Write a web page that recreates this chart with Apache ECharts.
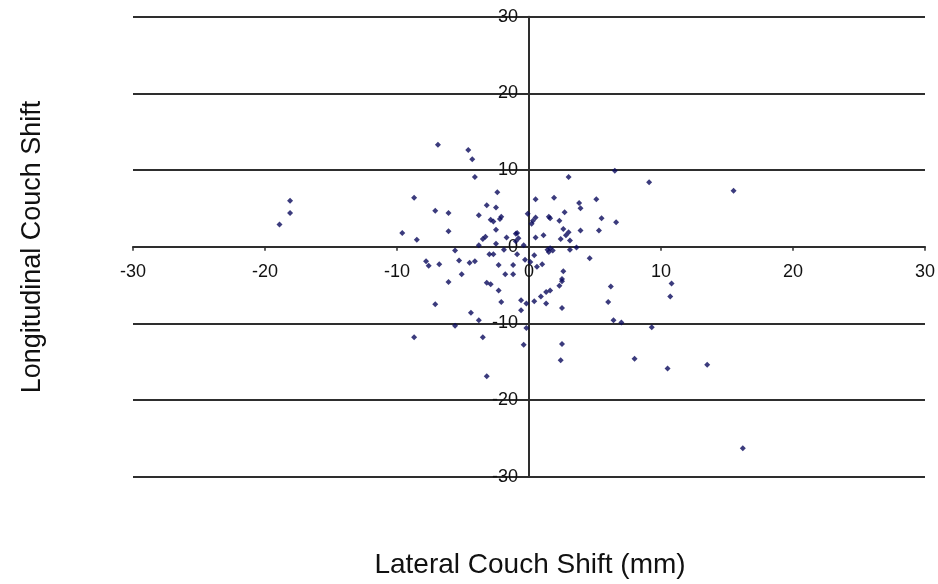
<!DOCTYPE html>
<html>
<head>
<meta charset="utf-8">
<script src="https://cdn.jsdelivr.net/npm/echarts@6/dist/echarts.min.js"></script>
<style>
html,body{margin:0;padding:0;background:#fff;}
#chart{width:938px;height:584px;}
</style>
</head>
<body>
<div id="chart"></div>
<script>
// Lateral couch shift (mm), x values
var lateral = [
  -6.9, -4.6, -4.3, -4.1, -2.4, -8.7, -18.1, -18.1, -18.9, -7.1,
  -6.1, -3.2, -2.5, -3.8, -2.9, -2.7, -2.1, -2.2, -0.1, -9.6,
  -8.5, -6.1, -2.5, -3.3, -3.5, -1.7, -1.0, -0.8, -3.8, -2.5,
  -5.6, -0.4, 6.5, 3.0, 0.5, 1.9, 3.8, 3.9, 5.1, 2.7,
  0.5, 0.3, 0.2, 1.5, 1.6, 2.3, 5.5, 6.6, 2.6, 3.0,
  2.8, 3.9, 5.3, 1.1, 0.5, 2.4, 3.1, 1.4, 1.6, 1.8,
  1.5, 3.1, 3.6, 4.6, -0.3, 0.1, 0.6, 1.0, 2.6, 2.5,
  2.5, 2.3, 6.2, 6.0, 1.6, 1.3, 0.9, 0.4, -0.2, 1.3,
  -0.6, -0.6, 2.5, 6.4, 7.0, -0.2, -0.4, 2.5, 2.4, 8.0,
  10.8, 10.7, 9.3, 10.5, 13.5, 16.2, 9.1, 15.5, -7.8, -7.6,
  -6.8, -5.3, -4.5, -4.1, -5.1, -6.1, -3.0, -2.7, -1.9, -0.9,
  -2.3, -1.2, -1.8, -1.2, -3.2, -2.9, -2.3, -2.1, -7.1, -4.4,
  -3.8, -5.6, -8.7, -3.5, -3.2, 0.4, -0.9, -1.0
];
// Longitudinal couch shift, y values
var longitudinal = [
  13.3, 12.6, 11.4, 9.1, 7.1, 6.4, 6.0, 4.4, 2.9, 4.7,
  4.4, 5.4, 5.1, 4.1, 3.5, 3.3, 3.9, 3.6, 4.3, 1.8,
  0.9, 2.0, 2.2, 1.3, 1.0, 1.2, 1.7, 1.1, 0.2, 0.4,
  -0.5, 0.2, 9.9, 9.1, 6.2, 6.4, 5.7, 5.0, 6.2, 4.5,
  3.8, 3.4, 3.0, 3.9, 3.7, 3.4, 3.7, 3.2, 2.3, 1.9,
  1.5, 2.1, 2.1, 1.5, 1.2, 1.0, 0.8, -0.4, -0.2, -0.5,
  -0.7, -0.4, -0.1, -1.5, -1.7, -2.0, -2.6, -2.3, -3.2, -4.2,
  -4.5, -5.1, -5.2, -7.2, -5.7, -5.9, -6.5, -7.1, -7.4, -7.4,
  -7.0, -8.3, -8.0, -9.6, -9.9, -10.6, -12.8, -12.7, -14.8, -14.6,
  -4.8, -6.5, -10.5, -15.9, -15.4, -26.3, 8.4, 7.3, -1.9, -2.5,
  -2.3, -1.8, -2.1, -1.9, -3.6, -4.6, -1.0, -1.0, -0.4, -1.0,
  -2.4, -2.4, -3.6, -3.6, -4.7, -4.9, -5.7, -7.2, -7.5, -8.6,
  -9.6, -10.3, -11.8, -11.8, -16.9, -1.1, 1.8, 0.7
];
var xTicks = [-30, -20, -10, 0, 10, 20, 30];
var yTicks = [-30, -20, -10, 0, 10, 20, 30];
var xTitle = 'Lateral Couch Shift (mm)';
var yTitle = 'Longitudinal Couch Shift';

var points = lateral.map(function (x, i) { return [x, longitudinal[i]]; });

var chart = echarts.init(document.getElementById('chart'), null, {renderer: 'canvas'});
var lineColor = '#2e2e2e';
var labelFont = {
  fontSize: 18,
  fontFamily: 'Liberation Sans Narrow, Liberation Sans, Arial, sans-serif',
  color: '#111111'
};
var gridTop = 16.7, gridBottomPx = 476.7, gridLeft = 133, gridRightPx = 925;
// axes sit on the zero lines: half of the plotting area away from the edges
var xOffset = -(gridBottomPx - gridTop) / 2;
var yOffset = -(gridRightPx - gridLeft) / 2;
chart.setOption({
  animation: false,
  backgroundColor: '#ffffff',
  grid: {left: gridLeft, right: 938 - gridRightPx, top: gridTop, bottom: 584 - gridBottomPx, containLabel: false},
  xAxis: {
    type: 'value',
    min: xTicks[0],
    max: xTicks[xTicks.length - 1],
    interval: 10,
    offset: xOffset,
    axisLine: {show: true, onZero: false, lineStyle: {color: lineColor, width: 2}},
    axisTick: {show: true, length: 4, lineStyle: {color: lineColor, width: 1.5}},
    axisLabel: Object.assign({margin: 16}, labelFont),
    splitLine: {show: false}
  },
  yAxis: {
    type: 'value',
    min: yTicks[0],
    max: yTicks[yTicks.length - 1],
    interval: 10,
    offset: yOffset,
    axisLine: {show: true, onZero: false, lineStyle: {color: lineColor, width: 2}},
    axisTick: {show: false},
    axisLabel: Object.assign({margin: 11}, labelFont),
    splitLine: {show: true, lineStyle: {color: lineColor, width: 2}}
  },
  graphic: [
    {
      type: 'text', x: 530, y: 565,
      style: {text: xTitle, font: '28px "Liberation Sans", Arial, sans-serif',
              fill: '#111111', textAlign: 'center', textVerticalAlign: 'middle'}
    },
    {
      type: 'text', x: 33, y: 247, rotation: Math.PI / 2,
      style: {text: yTitle, font: '27px "Liberation Sans", Arial, sans-serif',
              fill: '#111111', textAlign: 'center', textVerticalAlign: 'middle'}
    }
  ],
  series: [{
    type: 'scatter',
    data: points,
    symbol: 'diamond',
    symbolSize: 6,
    itemStyle: {color: '#0a0a5c'},
    z: 5
  }]
});
</script>
</body>
</html>
